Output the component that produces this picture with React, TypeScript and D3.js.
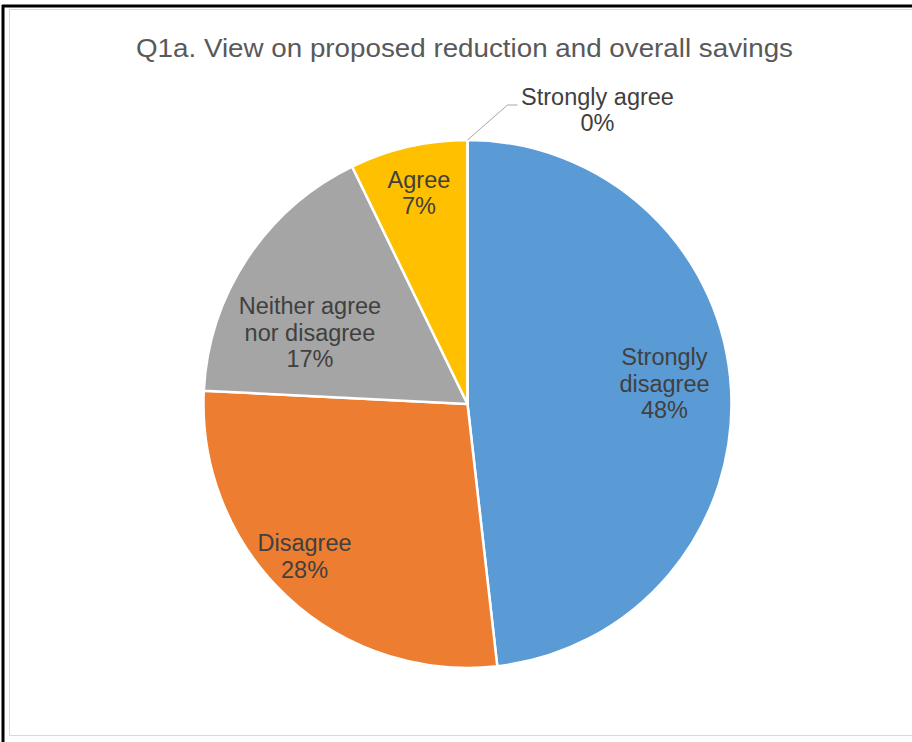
import React from "react";
import * as d3 from "d3";

const title = "Q1a. View on proposed reduction and overall savings";
const categories = ["Strongly disagree", "Disagree", "Neither agree nor disagree", "Agree", "Strongly agree"];
const values = [48.2, 27.6, 17.0, 7.2, 0];
const percentLabels = ["48%", "28%", "17%", "7%", "0%"];
const labelLines = [
  ["Strongly", "disagree"],
  ["Disagree"],
  ["Neither agree", "nor disagree"],
  ["Agree"],
  ["Strongly agree"],
];
const colors = ["#5B9BD5", "#ED7D31", "#A5A5A5", "#FFC000", "#4472C4"];

// layout (label placement: radius fraction and angle offset per slice)
const W = 912;
const H = 742;
const cx = 467.5;
const cy = 404;
const R = 264;
const labelRadius = [0.75, 0.845, 0.655, 0.82];
const labelAngleShift = [-0.045, 0.065, -0.16, 0.0];
const FONT = "'Liberation Sans', Arial, sans-serif";
const LFS = 23.5;

export default function App() {
  const data = categories.map((c, i) => ({ c, v: values[i], i }));
  const pie = d3.pie<any>().value((d) => d.v).sort(null);
  const arcs = pie(data);
  const arc = d3.arc<any>().innerRadius(0).outerRadius(R);
  const lh = 26.5;

  return (
    <svg width={W} height={H} style={{ position: "absolute", left: 0, top: 0, background: "#fff" }}>
      <rect x={0} y={0} width={W} height={H} fill="#fff" />
      {/* borders */}
      <line x1={3} y1={5} x2={3} y2={H} stroke="#000" strokeWidth={3} />
      <line x1={2} y1={6} x2={W} y2={6} stroke="#000" strokeWidth={3} />
      <rect x={9.5} y={9.5} width={W} height={726} fill="none" stroke="#d9d9d9" strokeWidth={1} />
      <text
        x={464.5}
        y={57}
        textAnchor="middle"
        fontFamily={FONT}
        fontSize={26}
        fill="#595959"
        textLength={657}
        lengthAdjust="spacingAndGlyphs"
      >
        {title}
      </text>
      <g transform={`translate(${cx},${cy})`}>
        {arcs.map((a, i) => (
          <path key={i} d={arc(a) || ""} fill={colors[i]} stroke="#fff" strokeWidth={2.5} strokeLinejoin="round" />
        ))}
        {arcs.map((a, i) => {
          const lines = [...labelLines[i], percentLabels[i]];
          if (a.endAngle - a.startAngle < 0.01) {
            // outside label with leader line
            const ang = a.startAngle;
            const p0 = [Math.sin(ang) * R, -Math.cos(ang) * R];
            const p1 = [p0[0] + 40, p0[1] - 35];
            const p2 = [p1[0] + 10, p1[1]];
            const tx = p2[0] + 80;
            const ty = p1[1] + 5;
            return (
              <g key={"l" + i}>
                <polyline
                  points={[p0, p1, p2].map((p) => p.join(",")).join(" ")}
                  fill="none"
                  stroke="#a6a6a6"
                  strokeWidth={1}
                />
                {lines.map((t, k) => (
                  <text
                    key={k}
                    x={tx}
                    y={ty + (k - (lines.length - 1) / 2) * lh}
                    textAnchor="middle"
                    dominantBaseline="central"
                    fontFamily={FONT}
                    fontSize={LFS}
                    fill="#404040"
                  >
                    {t}
                  </text>
                ))}
              </g>
            );
          }
          const mid = (a.startAngle + a.endAngle) / 2 + labelAngleShift[i];
          const r = R * labelRadius[i];
          const x = Math.sin(mid) * r;
          const y = -Math.cos(mid) * r;
          return (
            <g key={"l" + i}>
              {lines.map((t, k) => (
                <text
                  key={k}
                  x={x}
                  y={y + (k - (lines.length - 1) / 2) * lh}
                  textAnchor="middle"
                  dominantBaseline="central"
                  fontFamily={FONT}
                  fontSize={LFS}
                  fill="#404040"
                >
                  {t}
                </text>
              ))}
            </g>
          );
        })}
      </g>
    </svg>
  );
}
